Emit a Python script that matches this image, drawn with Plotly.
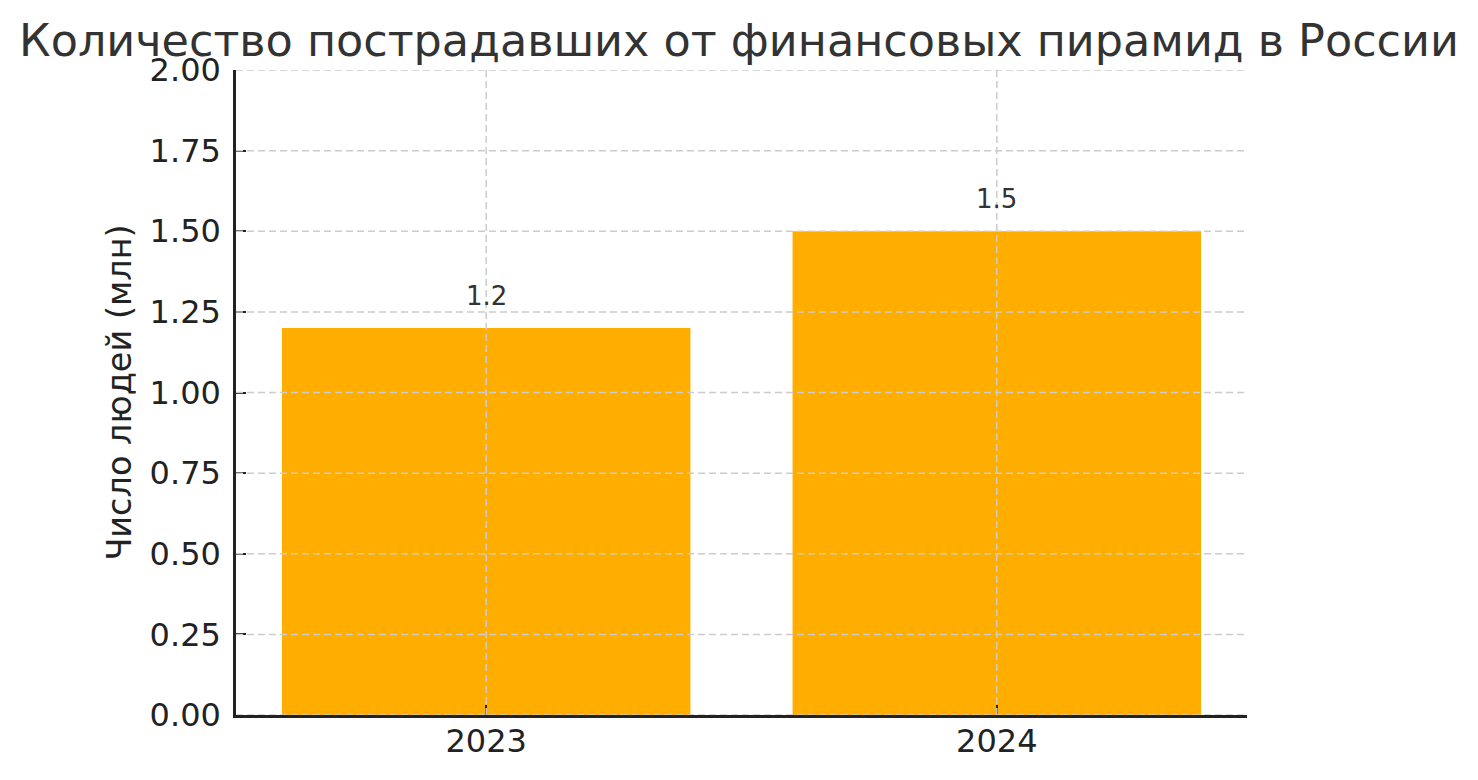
import plotly.graph_objects as go

years = ["2023", "2024"]
victims_mln = [1.2, 1.5]
y_ticks = [0.0, 0.25, 0.5, 0.75, 1.0, 1.25, 1.5, 1.75, 2.0]
y_tick_labels = ["0.00", "0.25", "0.50", "0.75", "1.00", "1.25", "1.50", "1.75", "2.00"]

title_text = "Количество пострадавших от финансовых пирамид в России"
y_title = "Число людей (млн)"

FONT = "DejaVu Sans"
BAR_COLOR = "#FFAE00"
GRID_COLOR = "#CCCCCC"
AXIS_COLOR = "#222222"

W, H = 1462, 764

fig = go.Figure()
fig.add_trace(go.Bar(x=list(range(len(years))), y=victims_mln,
                     marker=dict(color=BAR_COLOR, line=dict(width=0)),
                     width=0.8, hovertext=years, hoverinfo="text+y"))

shapes = []
for yv in y_ticks:
    shapes.append(dict(type="line", xref="paper", yref="y", x0=0, x1=1, y0=yv, y1=yv,
                       line=dict(color=GRID_COLOR, width=1.5, dash="7px,4px"), layer="above"))
for i, yr in enumerate(years):
    shapes.append(dict(type="line", xref="x", yref="paper", x0=i, x1=i, y0=0, y1=1,
                       line=dict(color=GRID_COLOR, width=1.5, dash="7px,4px"), layer="above"))

annotations = []
for i, v in enumerate(victims_mln):
    annotations.append(dict(x=i, y=v, xref="x", yref="y", text=f"{v}", showarrow=False,
                            yanchor="middle", yshift=32,
                            font=dict(family=FONT, size=26, color="#333333")))

fig.update_layout(
    width=W, height=H,
    margin=dict(l=228, r=223, t=62, b=55),
    paper_bgcolor="white", plot_bgcolor="white",
    showlegend=False,
    title=dict(text=title_text, x=0.5, xanchor="center", xref="container",
               y=1 - 32 / H, yanchor="middle", yref="container",
               font=dict(family=FONT, size=44.5, color="#333333")),
    shapes=shapes,
    annotations=annotations,
)

fig.update_xaxes(
    range=[-0.49, 1.49], tickmode="array", tickvals=list(range(len(years))), ticktext=years,
    showgrid=False, zeroline=False,
    showline=True, linecolor=AXIS_COLOR, linewidth=2.5, mirror=False,
    ticks="inside", ticklen=10, tickwidth=2, tickcolor=AXIS_COLOR,
    tickfont=dict(family=FONT, size=32, color=AXIS_COLOR),
    ticklabelstandoff=-4,
    layer="above traces",
)
fig.update_yaxes(
    range=[0, 2.0], tickmode="array", tickvals=y_ticks, ticktext=y_tick_labels,
    showgrid=False, zeroline=False,
    showline=True, linecolor=AXIS_COLOR, linewidth=2.5, mirror=False,
    ticks="inside", ticklen=10, tickwidth=2, tickcolor=AXIS_COLOR,
    tickfont=dict(family=FONT, size=32, color=AXIS_COLOR),
    ticklabelstandoff=6,
    title=dict(text=y_title, font=dict(family=FONT, size=33.5, color=AXIS_COLOR), standoff=8),
    layer="above traces",
)

fig.write_html("out.html")
